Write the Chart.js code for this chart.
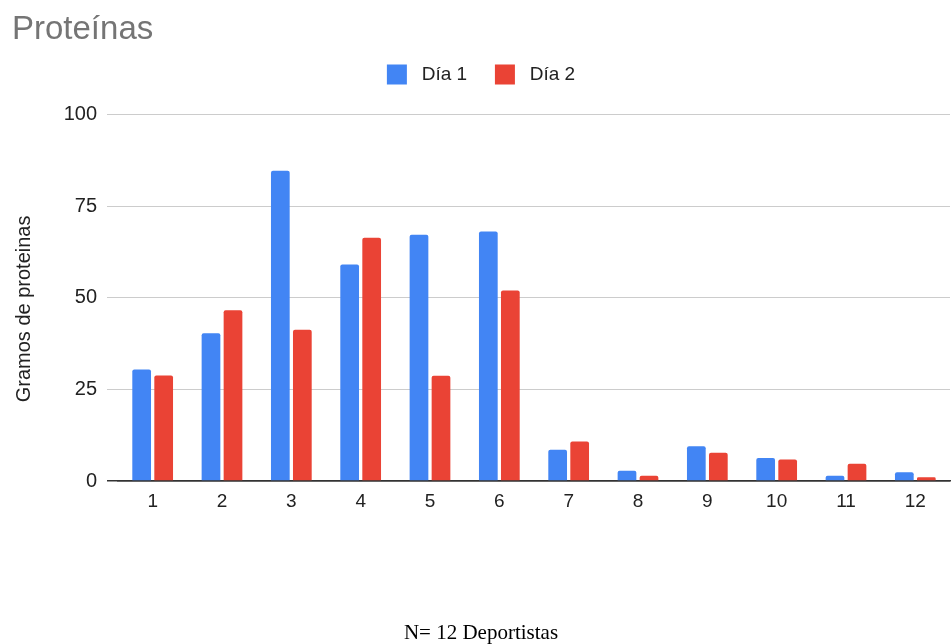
<!DOCTYPE html>
<html>
<head>
<meta charset="utf-8">
<script src="https://cdn.jsdelivr.net/npm/chart.js@4/dist/chart.umd.min.js"></script>
<style>
  html, body { margin: 0; padding: 0; background: #fff; }
  #wrap { width: 952px; height: 644px; }
</style>
</head>
<body>
<div id="wrap"><canvas id="proteinasChart" width="952" height="644"></canvas></div>
<script>
// Proteínas - gramos por deportista, dos días

const deportistas = ["1", "2", "3", "4", "5", "6", "7", "8", "9", "10", "11", "12"];
const dia1 = [30.4, 40.3, 84.7, 59.1, 67.2, 68.1, 8.5, 2.8, 9.5, 6.3, 1.4, 2.4];
const dia2 = [28.8, 46.6, 41.3, 66.4, 28.7, 52.0, 10.8, 1.4, 7.7, 5.9, 4.7, 1.0];
const yTicks = [0, 25, 50, 75, 100];

const sans = "'Liberation Sans', Arial, sans-serif";

// extra room under the legend
const legendMargin = {
    id: 'legendMargin',
    beforeInit(chart) {
        const fit = chart.legend.fit;
        chart.legend.fit = function () {
            fit.bind(chart.legend)();
            this.height += 20;
        };
    }
};

new Chart(document.getElementById("proteinasChart"), {
    type: "bar",
    data: {
        labels: deportistas,
        datasets: [{
            label: "Día 1",
            data: dia1,
            backgroundColor: "#4285f4",
            borderRadius: 2
        }, {
            label: "Día 2",
            data: dia2,
            backgroundColor: "#ea4335",
            borderRadius: 2
        }]
    },
    options: {
        responsive: false,
        animation: false,
        categoryPercentage: 0.635,
        barPercentage: 0.85,
        layout: { padding: { left: 12, right: 2, top: 0, bottom: 0 } },
        scales: {
            x: {
                grid: { display: false, drawTicks: false },
                border: { display: true, color: "#333", width: 1.5 },
                ticks: { color: "#222", padding: 9, font: { family: sans, size: 19 } }
            },
            y: {
                min: 0,
                max: 100,
                afterBuildTicks: (scale) => { scale.ticks = yTicks.map(v => ({ value: v })); },
                afterFit: (scale) => { scale.width = 106; },
                grid: {
                    color: (ctx) => ctx.tick && ctx.tick.value === 0 ? "#333" : "#cccccc",
                    tickLength: 11,
                    lineWidth: (ctx) => ctx.tick && ctx.tick.value === 0 ? 1.5 : 1
                },
                border: { display: false },
                ticks: { color: "#222", padding: 10, font: { family: sans, size: 20 } },
                title: {
                    display: true,
                    // trailing spaces push the title down a little, as in the original
                    text: "Gramos de proteinas    ",
                    color: "#222",
                    padding: { top: 0, bottom: 0 },
                    font: { family: sans, size: 20 }
                }
            }
        },
        plugins: {
            title: {
                display: true,
                text: "Proteínas",
                align: "start",
                color: "#757575",
                padding: { top: 10, bottom: 3 },
                font: { family: sans, size: 33, weight: "normal" }
            },
            subtitle: {
                display: true,
                position: "bottom",
                text: "N= 12 Deportistas",
                color: "#000",
                padding: { top: 99, bottom: -2 },
                font: { family: "'Liberation Serif', 'Times New Roman', serif", size: 21, weight: "normal" }
            },
            legend: {
                position: "top",
                labels: {
                    boxWidth: 20,
                    boxHeight: 20,
                    padding: 12,
                    color: "#222",
                    font: { family: sans, size: 19 },
                    generateLabels: (chart) => {
                        const items = Chart.defaults.plugins.legend.labels.generateLabels(chart);
                        items.forEach((it, i) => {
                            it.text = " " + it.text + (i === 0 ? "   " : "");
                        });
                        return items;
                    }
                }
            },
            tooltip: { enabled: false }
        }
    },
    plugins: [legendMargin]
});
</script>
</body>
</html>
